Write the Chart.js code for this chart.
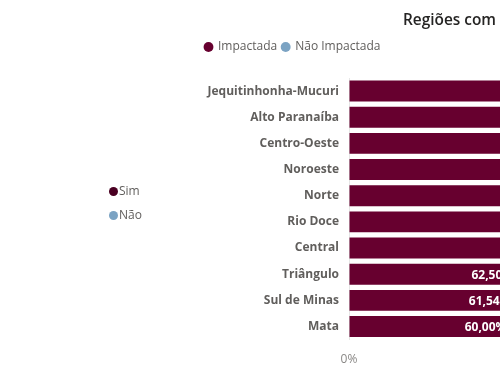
<!DOCTYPE html>
<html>
<head>
<meta charset="utf-8">
<script src="https://cdn.jsdelivr.net/npm/chart.js@4"></script>
<style>
  body { margin: 0; background: #fff; overflow: hidden; }
  #wrap { position: relative; width: 500px; height: 382px; overflow: hidden; }
  #box { position: absolute; left: 0; top: 0; width: 700px; height: 382px; }
  #title { position: absolute; left: 403px; top: 9px; font: 600 15.4px "Open Sans", sans-serif; color: #252423; white-space: nowrap; }
  .side { position: absolute; left: 109px; font: 12px "Open Sans", sans-serif; color: #605E5C; }
  .dot { display: inline-block; width: 9px; height: 9px; border-radius: 50%; margin-right: 1px; vertical-align: -1px; }
</style>
</head>
<body>
<div id="wrap">
  <div id="box"><canvas id="theChart" width="700" height="382"></canvas></div>
  <div id="title">Regiões com</div>
  <div class="side" style="top:182px"><span class="dot" style="background:#4a0022"></span>Sim</div>
  <div class="side" style="top:206px"><span class="dot" style="background:#7ba3c3"></span>Não</div>
</div>
<script>
// dados do grafico (percentual de municipios por regiao)
var regioes = ['Jequitinhonha-Mucuri', 'Alto Paranaíba', 'Centro-Oeste', 'Noroeste', 'Norte',
  'Rio Doce', 'Central', 'Triângulo', 'Sul de Minas', 'Mata'];
var impactada = [100, 100, 90.91, 88.89, 85.71, 80, 77.78, 62.5, 61.54, 60];
var naoImpactada = [0, 0, 9.09, 11.11, 14.29, 20, 22.22, 37.5, 38.46, 40];
var ticksX = [0, 100];

// rotulos no fim da barra (igual ao Power BI)
var labelPlugin = {
  id: 'barLabels',
  afterDatasetsDraw: function (chart) {
    var ctx = chart.ctx;
    var meta = chart.getDatasetMeta(0);
    ctx.save();
    ctx.font = 'bold 12px "Open Sans", sans-serif';
    ctx.fillStyle = '#ffffff';
    ctx.textAlign = 'right';
    ctx.textBaseline = 'middle';
    meta.data.forEach(function (bar, i) {
      var txt = impactada[i].toFixed(2).replace('.', ',') + '%';
      ctx.fillText(txt, bar.x - 4, bar.y + 1);
    });
    ctx.restore();
  }
};

// espaco extra abaixo da legenda
var legendGap = {
  id: 'legendGap',
  beforeInit: function (chart) {
    var fit = chart.legend.fit;
    chart.legend.fit = function () {
      fit.bind(chart.legend)();
      this.height += 15;
    };
  }
};

var ctx = document.getElementById('theChart').getContext('2d');
var myChart = new Chart(ctx, {
  type: 'bar',
  data: {
    labels: regioes,
    datasets: [{
      label: 'Impactada',
      data: impactada,
      backgroundColor: '#67002f',
      barPercentage: 0.8,
      categoryPercentage: 1
    }, {
      label: 'Não Impactada',
      data: naoImpactada,
      backgroundColor: '#7ba3c3',
      barPercentage: 0.8,
      categoryPercentage: 1
    }]
  },
  options: {
    indexAxis: 'y',
    responsive: false,
    animation: false,
    layout: { padding: { left: 200, right: 82, top: 36, bottom: 2 } },
    plugins: {
      title: { display: false },
      tooltip: { enabled: false },
      legend: {
        position: 'top',
        align: 'start',
        labels: {
          usePointStyle: true,
          pointStyle: 'circle',
          boxWidth: 7,
          boxHeight: 7,
          padding: 5,
          color: '#605E5C',
          font: { family: '"Open Sans", sans-serif', size: 12 }
        }
      }
    },
    scales: {
      x: {
        stacked: true,
        min: 0,
        max: 100,
        afterBuildTicks: function (axis) {
          axis.ticks = ticksX.map(function (v) { return { value: v }; });
        },
        grid: { drawTicks: false, color: '#e6e6e6' },
        border: { display: false },
        ticks: {
          padding: 13,
          color: '#8a8886',
          font: { family: '"Open Sans", sans-serif', size: 12 },
          callback: function (v) { return v + '%'; }
        }
      },
      y: {
        stacked: true,
        grid: { display: false, drawTicks: false },
        border: { display: false },
        afterFit: function (axis) { axis.width = 149; },
        ticks: {
          padding: 10,
          color: '#605E5C',
          font: { family: '"Open Sans", sans-serif', size: 12, weight: 'bold' }
        }
      }
    }
  },
  plugins: [labelPlugin, legendGap]
});
</script>
</body>
</html>
